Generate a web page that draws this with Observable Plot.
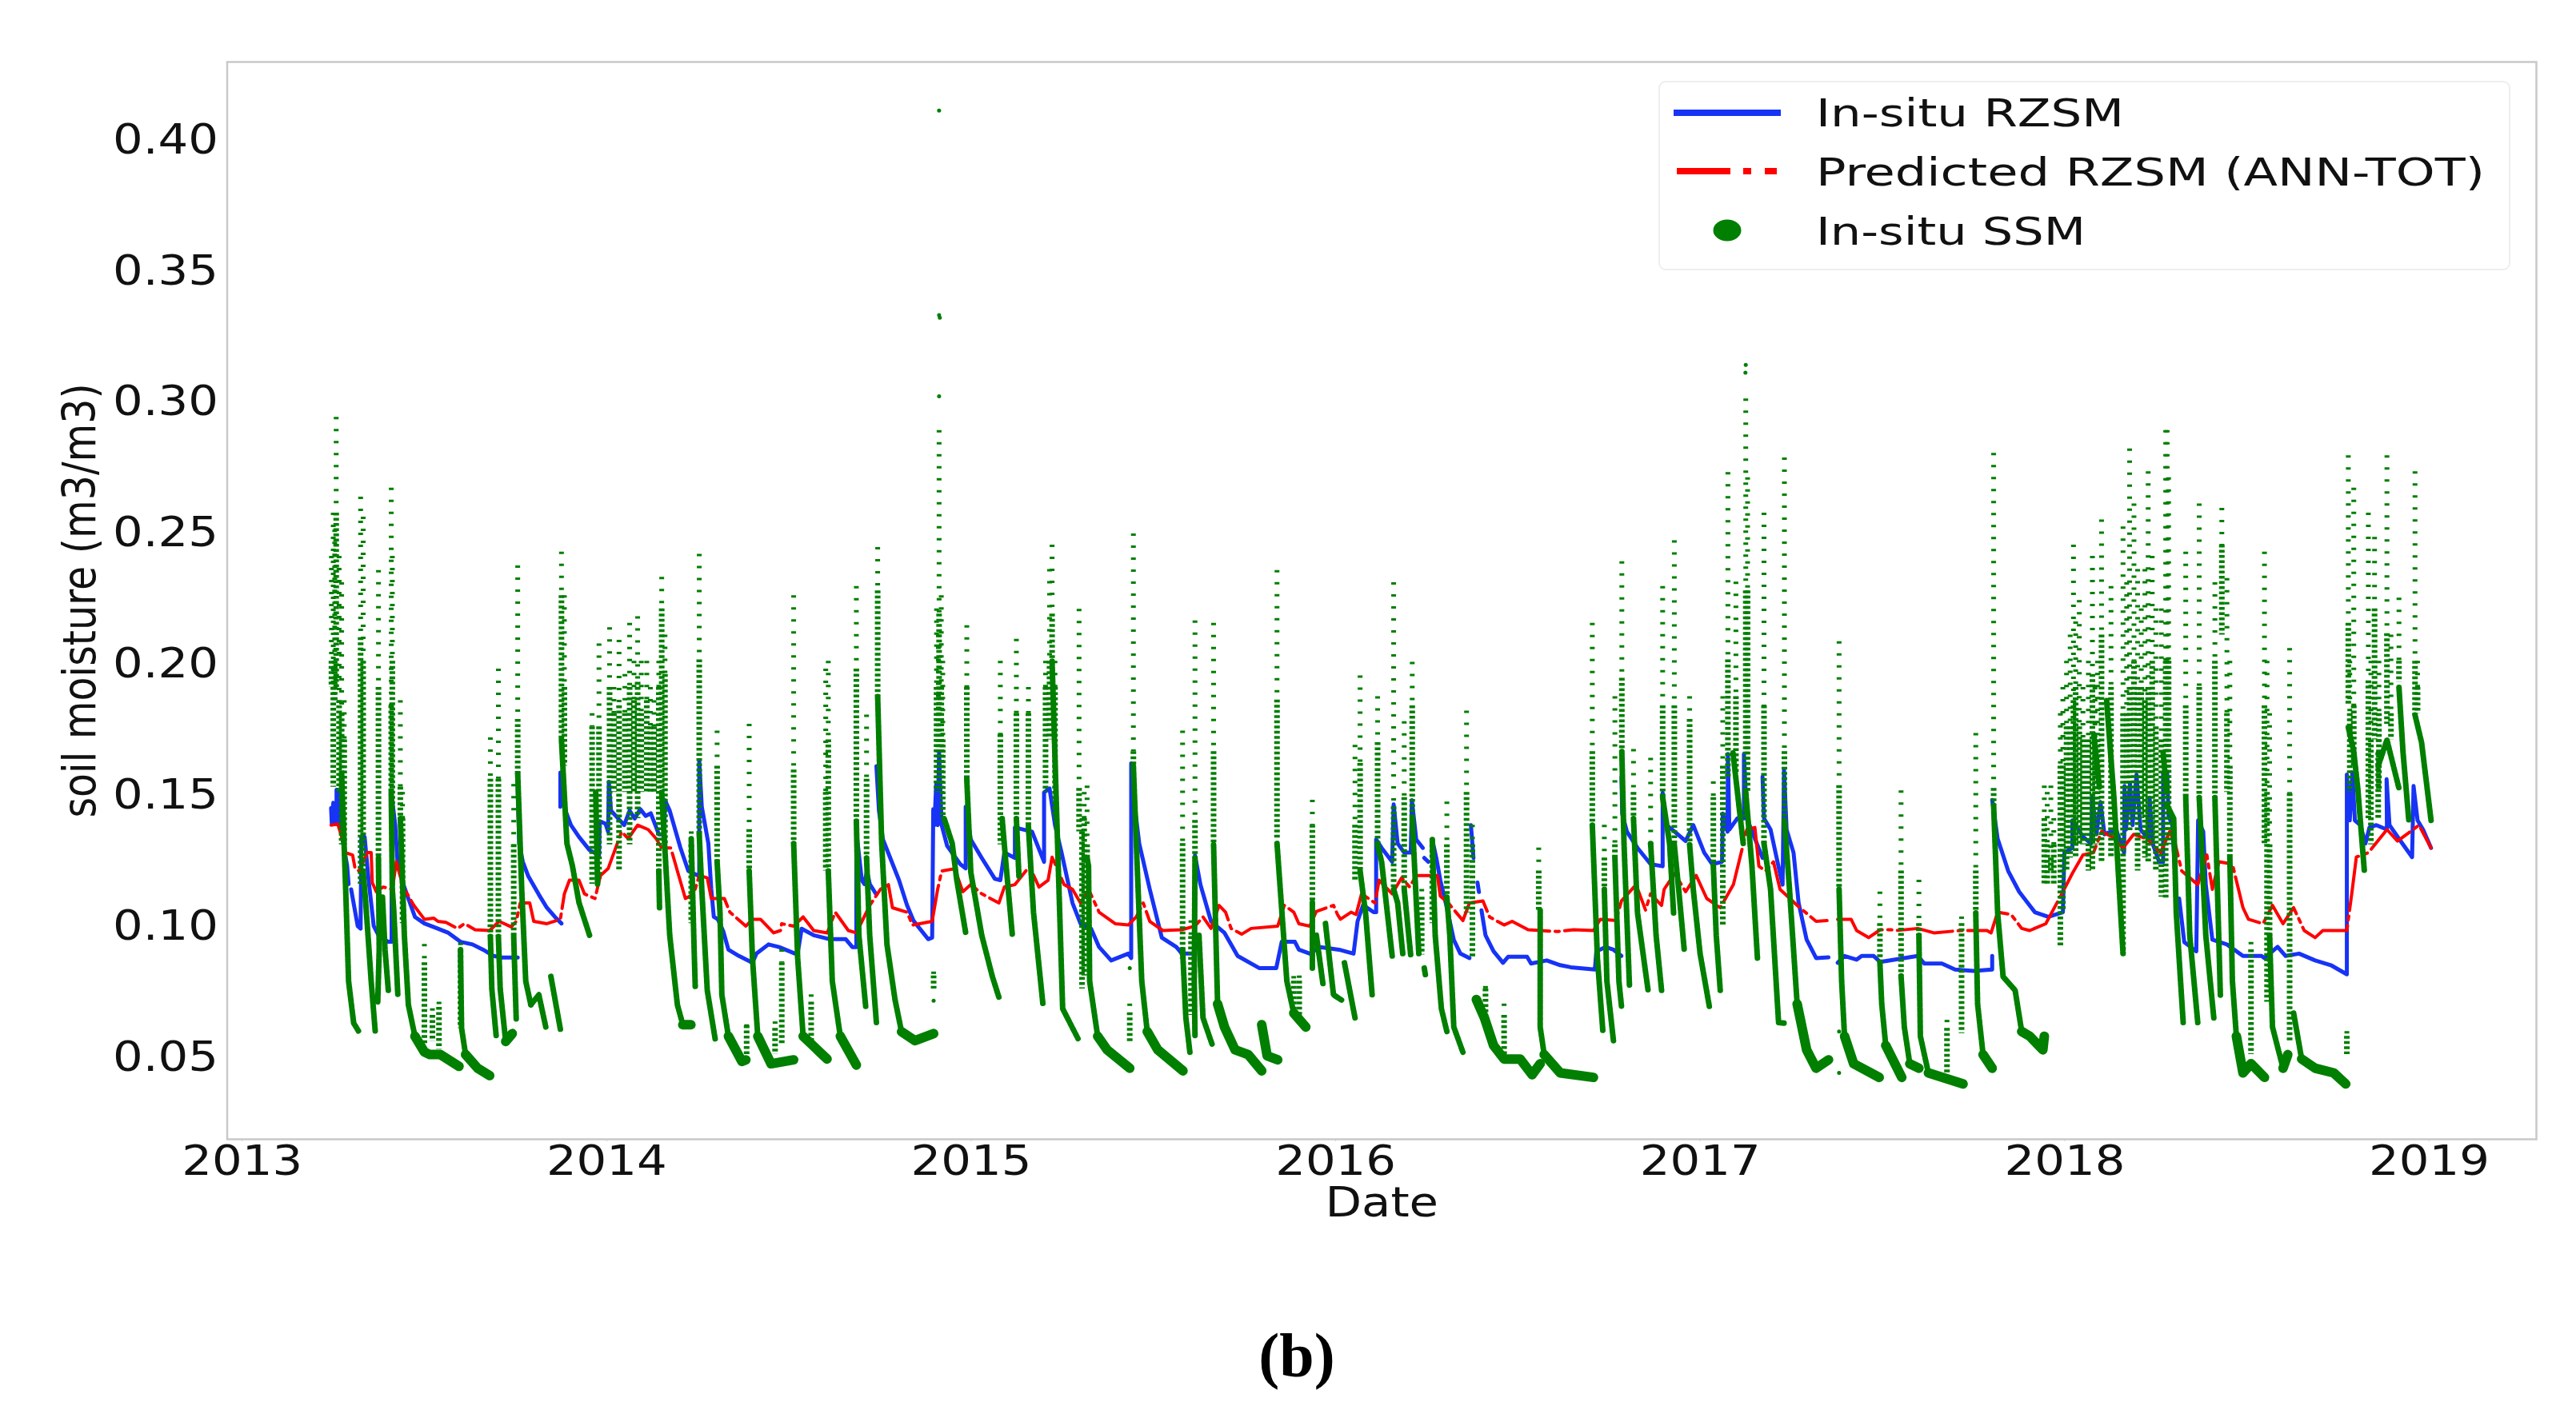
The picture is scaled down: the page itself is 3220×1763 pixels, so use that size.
<!DOCTYPE html>
<html>
<head>
<meta charset="utf-8">
<script src="https://cdn.jsdelivr.net/npm/d3@7"></script>
<script src="https://cdn.jsdelivr.net/npm/@observablehq/plot@0.6"></script>
<style>
  html, body { margin: 0; padding: 0; background: #fff; overflow: hidden; }
  #chart { position: relative; width: 3220px; height: 1763px; }
  #caption { position: absolute; left: 1421px; width: 400px; top: 1650px; text-align: center;
    font: bold 78px "Liberation Serif", serif; color: #000; }
</style>
</head>
<body>
<div id="chart"></div>
<div id="caption">(b)</div>
<script>
const yearTicks = [2013, 2014, 2015, 2016, 2017, 2018, 2019];
const moistureTicks = [0.05, 0.10, 0.15, 0.20, 0.25, 0.30, 0.35, 0.40];

// In-situ RZSM, [decimal year, m3/m3], one list per unbroken stretch
const insituRzsm = [
  [[2013.244,.144],[2013.246,.138],[2013.25,.146],[2013.253,.138],[2013.259,.138],[2013.259,.151],[2013.2625,.151],[2013.273,.134],[2013.288,.122],[2013.292,.115]],
  [[2013.299,.113],[2013.317,.099],[2013.325,.098],[2013.327,.133],[2013.336,.133],[2013.347,.1165],[2013.361,.099],[2013.376,.095],[2013.401,.093],[2013.41,.093],[2013.41,.149],[2013.42,.1375],[2013.427,.122],[2013.442,.115],[2013.456,.1095],[2013.474,.1025],[2013.5,.1],[2013.537,.098],[2013.566,.0964],[2013.599,.093],[2013.632,.092],[2013.661,.09],[2013.69,.0876],[2013.712,.087],[2013.756,.087]],
  [[2013.756,.1515],[2013.76,.1305],[2013.77,.1235],[2013.785,.118],[2013.814,.111],[2013.836,.106],[2013.858,.1025],[2013.876,.1]],
  [[2013.873,.1575],[2013.873,.1445],[2013.88,.157],[2013.884,.1445],[2013.887,.143],[2013.902,.1375],[2013.924,.133],[2013.953,.128],[2013.979,.126],[2013.981,.139],[2013.997,.138],[2014.004,.135],[2014.006,.154],[2014.012,.143],[2014.048,.1375],[2014.063,.143],[2014.077,.14],[2014.092,.1436],[2014.107,.141],[2014.121,.142],[2014.136,.1366],[2014.143,.134],[2014.158,.134],[2014.16,.147],[2014.173,.143],[2014.202,.129],[2014.224,.12],[2014.254,.118],[2014.254,.162],[2014.261,.1445],[2014.279,.1305],[2014.287,.113],[2014.294,.1025],[2014.305,.1016],[2014.32,.097],[2014.334,.09],[2014.363,.0876],[2014.4,.085],[2014.411,.0885],[2014.444,.092],[2014.473,.091],[2014.517,.0885],[2014.524,.0885],[2014.535,.098],[2014.568,.0955],[2014.612,.094],[2014.656,.094],[2014.674,.091],[2014.685,.091],[2014.685,.135],[2014.7,.1165],[2014.707,.115],[2014.714,.12],[2014.722,.115],[2014.74,.111]],
  [[2014.74,.16],[2014.747,.143],[2014.758,.132],[2014.802,.1165],[2014.824,.107],[2014.842,.101],[2014.882,.094],[2014.893,.0946],[2014.896,.1436],[2014.899,.1375],[2014.904,.153],[2014.908,.1375],[2014.912,.1655],[2014.915,.153],[2014.919,.1375],[2014.934,.1296],[2014.97,.1226],[2014.985,.121],[2014.985,.1445],[2014.999,.132],[2015.029,.125],[2015.065,.117],[2015.08,.1165],[2015.091,.127],[2015.12,.125],[2015.12,.1366],[2015.167,.135],[2015.2,.1235],[2015.2,.15],[2015.215,.1515],[2015.23,.1375],[2015.248,.127],[2015.278,.1078],[2015.3,.0999],[2015.329,.098],[2015.351,.091],[2015.384,.0859],[2015.431,.0885],[2015.439,.0868],[2015.439,.161],[2015.446,.148],[2015.461,.1305],[2015.49,.113],[2015.523,.0946],[2015.563,.091],[2015.578,.0885],[2015.614,.0885],[2015.614,.126],[2015.629,.1148],[2015.658,.1008],[2015.695,.0964],[2015.731,.0876],[2015.79,.083],[2015.837,.083],[2015.852,.093],[2015.888,.093],[2015.899,.09],[2015.929,.0885],[2015.958,.091],[2016.009,.09],[2016.049,.0885],[2016.06,.1008],[2016.075,.107],[2016.104,.1043],[2016.111,.1043],[2016.111,.132],[2016.126,.1288],[2016.155,.1235],[2016.159,.1454],[2016.17,.1305],[2016.188,.127],[2016.206,.127],[2016.209,.147],[2016.221,.132],[2016.239,.1288]],
  [[2016.243,.125],[2016.254,.1235]],
  [[2016.265,.132],[2016.276,.125],[2016.287,.1165],[2016.302,.1078],[2016.324,.0938],[2016.342,.0885],[2016.367,.0868]],
  [[2016.371,.1375],[2016.378,.125]],
  [[2016.389,.1156],[2016.393,.112]],
  [[2016.4,.105],[2016.411,.0955],[2016.433,.0894],[2016.459,.085],[2016.473,.0873],[2016.525,.0873],[2016.536,.0847],[2016.579,.0859],[2016.616,.0841],[2016.645,.0833],[2016.711,.0824],[2016.715,.0894],[2016.74,.091],[2016.762,.09],[2016.784,.0876]],
  [[2016.784,.1559],[2016.786,.1419],[2016.799,.135],[2016.828,.1288],[2016.864,.1226],[2016.897,.1218],[2016.897,.1498],[2016.908,.1375],[2016.93,.135],[2016.96,.1314],[2016.981,.1375],[2017.011,.127],[2017.033,.1226],[2017.06,.1235],[2017.062,.1419],[2017.075,.135],[2017.076,.1646],[2017.08,.1358],[2017.102,.1401],[2017.12,.1401],[2017.12,.1646],[2017.128,.1401],[2017.171,.125]],
  [[2017.171,.1559],[2017.175,.1401],[2017.193,.1358],[2017.212,.1235],[2017.226,.1148],[2017.23,.1585],[2017.237,.1358],[2017.256,.127],[2017.27,.1078],[2017.292,.0938],[2017.318,.0868],[2017.352,.0871]],
  [[2017.377,.085],[2017.396,.0876],[2017.429,.0862],[2017.443,.0876],[2017.476,.0876],[2017.494,.0853],[2017.597,.0876],[2017.615,.0847],[2017.663,.0847],[2017.699,.0824],[2017.75,.0819],[2017.801,.0824],[2017.801,.0876]],
  [[2017.801,.1471],[2017.816,.1323],[2017.845,.12],[2017.875,.1121],[2017.918,.1043],[2017.955,.1025],[2017.995,.1043],[2017.999,.127],[2018.021,.1288],[2018.021,.1393],[2018.05,.1331],[2018.072,.1305],[2018.076,.148],[2018.087,.134],[2018.098,.1463],[2018.109,.134],[2018.141,.1358],[2018.163,.127],[2018.164,.1524],[2018.168,.1358],[2018.179,.1533],[2018.186,.1375],[2018.197,.1568],[2018.208,.1358],[2018.23,.1323],[2018.233,.148],[2018.241,.1305],[2018.259,.1235],[2018.27,.1235],[2018.27,.1576],[2018.281,.1576],[2018.285,.141],[2018.295,.1375],[2018.306,.1113]],
  [[2018.314,.1095],[2018.328,.0929],[2018.361,.0894],[2018.366,.1393],[2018.38,.135],[2018.387,.1148],[2018.405,.0938],[2018.445,.092],[2018.489,.0876],[2018.54,.0876],[2018.548,.0868],[2018.584,.0911],[2018.606,.0876],[2018.643,.0885],[2018.687,.0859],[2018.73,.0841],[2018.774,.0806],[2018.774,.1568],[2018.782,.1393],[2018.789,.1576],[2018.796,.1393],[2018.811,.1375],[2018.825,.1305],[2018.836,.1366],[2018.855,.1375],[2018.884,.1358],[2018.883,.155],[2018.891,.1375],[2018.917,.1323],[2018.953,.1253],[2018.957,.1524],[2018.968,.1393],[2018.983,.1358],[2019.005,.1288]]
];

// Predicted RZSM (ANN-TOT)
const predictedRzsm = [
  [[2013.244,.1375],[2013.2625,.1379],[2013.273,.1331],[2013.284,.127],[2013.303,.1261],[2013.31,.1209],[2013.321,.12],[2013.343,.127],[2013.354,.127],[2013.357,.1156],[2013.368,.1121],[2013.387,.1139],[2013.412,.113],[2013.423,.1235],[2013.442,.1139],[2013.471,.1069],[2013.5,.1016],[2013.526,.102],[2013.537,.1008],[2013.559,.1004],[2013.591,.0981],[2013.61,.0999],[2013.639,.0976],[2013.679,.0973],[2013.705,.1008],[2013.738,.0987],[2013.752,.1008],[2013.763,.1078],[2013.789,.1078],[2013.8,.1008],[2013.836,.0999],[2013.873,.1016],[2013.884,.1113],[2013.898,.1165],[2013.924,.1165],[2013.939,.1113],[2013.968,.1095],[2013.983,.1183],[2014.004,.1209],[2014.041,.135],[2014.059,.1323],[2014.085,.1375],[2014.114,.1358],[2014.136,.1323],[2014.151,.1288],[2014.176,.1288],[2014.194,.12],[2014.216,.1095],[2014.239,.1113],[2014.254,.1183],[2014.276,.1174],[2014.287,.1095],[2014.323,.1095],[2014.338,.1043],[2014.382,.099],[2014.4,.1016],[2014.422,.1016],[2014.458,.0964],[2014.477,.0973],[2014.48,.0999],[2014.513,.099],[2014.539,.1025],[2014.568,.0973],[2014.605,.0964],[2014.627,.1043],[2014.663,.0973],[2014.685,.0964],[2014.722,.1069],[2014.751,.113],[2014.773,.1148],[2014.784,.106],[2014.824,.1043],[2014.839,.0994],[2014.893,.1008],[2014.908,.113],[2014.919,.12],[2014.955,.1209],[2014.977,.1121],[2014.999,.1148],[2015.029,.1113],[2015.076,.1078],[2015.091,.1139],[2015.12,.1148],[2015.16,.1218],[2015.186,.1139],[2015.211,.1165],[2015.222,.1253],[2015.255,.1148],[2015.278,.113],[2015.3,.1078],[2015.322,.113],[2015.351,.1043],[2015.395,.0999],[2015.431,.0994],[2015.453,.1025],[2015.472,.1078],[2015.49,.1008],[2015.526,.0973],[2015.578,.0976],[2015.614,.099],[2015.636,.1025],[2015.658,.0981],[2015.68,.1069],[2015.698,.1043],[2015.713,.0981],[2015.742,.0959],[2015.768,.0981],[2015.841,.099],[2015.859,.1069],[2015.885,.1043],[2015.899,.0999],[2015.929,.099],[2015.947,.1046],[2015.994,.1069],[2016.005,.1034],[2016.013,.1016],[2016.042,.1043],[2016.056,.1034],[2016.071,.1113],[2016.108,.1078],[2016.119,.1165],[2016.155,.1113],[2016.181,.1174],[2016.203,.1139],[2016.221,.1183],[2016.279,.1183],[2016.287,.1104],[2016.309,.1078],[2016.349,.1011],[2016.367,.1078],[2016.404,.1086],[2016.422,.1025],[2016.462,.0994],[2016.484,.1008],[2016.528,.0976],[2016.609,.0969],[2016.653,.0976],[2016.707,.0973],[2016.726,.1016],[2016.769,.1011],[2016.784,.1086],[2016.824,.1148],[2016.85,.1051],[2016.864,.1113],[2016.894,.1069],[2016.901,.113],[2016.93,.1191],[2016.96,.1121],[2016.989,.1183],[2017.018,.1095],[2017.055,.106],[2017.091,.1148],[2017.128,.1358],[2017.15,.1366],[2017.161,.1218],[2017.179,.12],[2017.201,.1235],[2017.219,.113],[2017.266,.1069],[2017.318,.1008],[2017.348,.1011]],
  [[2017.377,.1016],[2017.414,.1016],[2017.429,.0973],[2017.462,.0946],[2017.494,.0976],[2017.524,.0976],[2017.538,.0973],[2017.597,.0981],[2017.641,.0964],[2017.714,.0973],[2017.787,.0973],[2017.798,.0964],[2017.816,.1043],[2017.853,.1034],[2017.882,.0981],[2017.904,.0973],[2017.948,.0999],[2017.992,.1113],[2018.021,.1191],[2018.05,.1261],[2018.079,.127],[2018.101,.135],[2018.13,.1331],[2018.16,.1288],[2018.189,.134],[2018.225,.1323],[2018.263,.127],[2018.288,.135],[2018.303,.1305],[2018.321,.12],[2018.365,.1148],[2018.39,.1261],[2018.405,.113],[2018.423,.1235],[2018.46,.1226],[2018.489,.106],[2018.504,.1016],[2018.544,.0999],[2018.57,.1069],[2018.599,.0999],[2018.628,.106],[2018.657,.0973],[2018.687,.0946],[2018.708,.0973],[2018.774,.0973],[2018.789,.113],[2018.8,.1253],[2018.833,.127],[2018.884,.1358],[2018.913,.1314],[2018.972,.1375],[2019.005,.1288]]
];

// In-situ SSM: wetting pulses as columns of readings [year, highest, where readings get closer, lowest]
const ssmColumns = [
  [2013.258,.293,.2565,.19],[2013.25,.2565,.19,.152],[2013.245,.24,.2,.19],[2013.254,.25,.2,.185],[2013.266,.24,.185,.15],[2013.273,.23,.18,.13],[2013.28,.185,.17,.13],[2013.325,.2626,.209,.115],[2013.332,.255,.2,.12],[2013.374,.2346,.19,.125],[2013.409,.266,.183,.15],[2013.412,.24,.2,.14],[2013.434,.185,.152,.14],[2013.44,.15,.14,.1],[2013.5,.092,.085,.054],[2013.522,.0675,.065,.055],[2013.54,.07,.068,.052],[2013.599,.0925,.09,.06],[2013.681,.1708,.155,.095],[2013.703,.197,.155,.095],[2013.745,.153,.13,.095],[2013.756,.2364,.1778,.157],[2013.876,.2416,.225,.17],[2013.884,.225,.19,.16],[2013.96,.18,.175,.115],[2013.979,.2066,.175,.117],
  [2014.008,.2128,.19,.13],[2014.02,.19,.18,.15],[2014.034,.208,.183,.12],[2014.05,.195,.18,.15],[2014.063,.2145,.19,.13],[2014.075,.2,.185,.15],[2014.085,.217,.192,.14],[2014.095,.2,.18,.15],[2014.11,.2,.185,.15],[2014.12,.19,.175,.15],[2014.13,.185,.175,.15],[2014.143,.2,.19,.12],[2014.151,.232,.22,.15],[2014.16,.21,.195,.13],[2014.232,.135,.13,.1],[2014.254,.2408,.2005,.134],[2014.303,.1734,.16,.1235],[2014.384,.0614,.061,.05],[2014.391,.176,.1358,.12],[2014.462,.0625,.06,.05],[2014.4804,.09,.085,.054],[2014.513,.225,.1585,.1305],[2014.561,.0728,.07,.055],[2014.601,.197,.15,.12],[2014.608,.2,.17,.12],[2014.685,.2285,.197,.139],[2014.713,.1795,.155,.125],[2014.7435,.2434,.2268,.1865],[2014.897,.0815,.08,.075],[2014.905,.22,.19,.15],[2014.91,.21,.18,.15],[2014.912,.288,.218,.18],[2014.918,.225,.19,.15],[2014.922,.2,.17,.14],[2014.988,.2136,.19,.155],
  [2015.08,.2,.172,.13],[2015.124,.2084,.18,.14],[2015.157,.19,.18,.137],[2015.204,.2,.19,.15],[2015.215,.235,.2,.17],[2015.222,.2443,.218,.2],[2015.23,.2,.19,.14],[2015.296,.2198,.1515,.135],[2015.304,.14,.135,.075],[2015.31,.15,.14,.08],[2015.318,.1524,.13,.11],[2015.435,.0693,.066,.055],[2015.445,.2486,.1655,.16],[2015.58,.1734,.1305,.0865],[2015.603,.101,.095,.065],[2015.614,.2154,.1393,.125],[2015.665,.2145,.1655,.13],[2015.839,.2346,.1852,.132],[2015.885,.0798,.078,.067],[2015.9,.08,.078,.065],[2015.936,.147,.1375,.108],
  [2016.053,.168,.1375,.1165],[2016.067,.1944,.161,.12],[2016.115,.1865,.169,.13],[2016.159,.23,.1445,.113],[2016.188,.177,.148,.113],[2016.21,.1996,.183,.14],[2016.236,.113,.11,.088],[2016.265,.1323,.13,.1],[2016.305,.1463,.13,.11],[2016.359,.181,.15,.104],[2016.375,.1375,.13,.0868],[2016.411,.076,.075,.062],[2016.462,.0693,.065,.05],[2016.557,.1288,.12,.105],[2016.704,.2145,.1655,.1375],[2016.737,.1375,.125,.113],[2016.766,.1865,.13,.125],[2016.785,.238,.1935,.1655],[2016.817,.1664,.15,.14],[2016.864,.163,.13,.1305],[2016.897,.2285,.183,.148],[2016.929,.246,.183,.13],[2016.971,.1865,.1778,.13],
  [2017.036,.154,.148,.122],[2017.062,.1865,.16,.099],[2017.076,.272,.2005,.155],[2017.098,.2302,.1865,.157],[2017.125,.3,.2268,.14],[2017.13,.27,.2268,.15],[2017.175,.2565,.183,.1305],[2017.231,.2775,.1655,.1393],[2017.381,.2075,.1526,.113],[2017.493,.112,.1,.085],[2017.551,.1506,.12,.08],[2017.6,.1165,.1,.0955],[2017.677,.0631,.06,.043],[2017.717,.1025,.1,.058],[2017.756,.1725,.12,.104],[2017.805,.2793,.1515,.145],[2017.944,.1524,.14,.115],[2017.952,.15,.13,.115],[2017.962,.1524,.125,.12],[2017.97,.14,.13,.115],[2017.988,.18,.16,.091],[2017.995,.19,.16,.105],
  [2018.005,.2,.175,.12],[2018.015,.21,.175,.125],[2018.024,.2443,.185,.13],[2018.03,.215,.19,.125],[2018.04,.2232,.175,.13],[2018.05,.19,.17,.13],[2018.065,.2,.17,.12],[2018.076,.24,.195,.12],[2018.083,.19,.17,.13],[2018.09,.2,.17,.14],[2018.101,.2539,.21,.1235],[2018.127,.2285,.19,.125],[2018.16,.2512,.18,.0885],[2018.17,.23,.18,.14],[2018.178,.281,.19,.135],[2018.19,.26,.2,.14],[2018.2,.235,.19,.12],[2018.21,.22,.19,.14],[2018.22,.235,.185,.125],[2018.229,.2723,.19,.1235],[2018.24,.24,.2,.13],[2018.25,.22,.175,.12],[2018.265,.22,.17,.11],[2018.277,.288,.2,.1095],[2018.281,.288,.2,.15],[2018.285,.27,.2,.13],[2018.332,.2416,.183,.148],[2018.369,.26,.19,.148],[2018.412,.23,.2,.148],[2018.431,.2583,.2443,.21],[2018.445,.2316,.18,.15],[2018.453,.2,.16,.125],[2018.511,.0928,.09,.05],[2018.548,.2416,.183,.1305],[2018.555,.2,.15,.07],[2018.562,.18,.13,.075],[2018.617,.2049,.1495,.055],[2018.774,.0588,.057,.05],[2018.778,.2784,.2145,.183],[2018.782,.2,.18,.15],[2018.793,.266,.183,.16],[2018.833,.2565,.1925,.14],[2018.84,.2,.17,.13],[2018.85,.2473,.22,.17],[2018.86,.17,.165,.14],[2018.862,.2,.18,.15],[2018.884,.2784,.2105,.176],[2018.895,.21,.18,.17],[2018.917,.2241,.2,.192],[2018.961,.2723,.2,.1795],[2018.968,.2,.19,.18]
];

// isolated high readings
const ssmOutliers = [
  [2014.912,.41],[2014.912,.332],[2014.914,.331],[2014.912,.301],[2017.125,.313],[2017.124,.31],[2014.897,.0705],[2015.435,.083],[2017.381,.0588],[2017.381,.043]
];

// steep drying limbs after each pulse
const ssmLimbs = [
  [[2013.273,.157],[2013.284,.113],[2013.292,.078],[2013.306,.062],[2013.319,.059]],
  [[2013.332,.12],[2013.339,.108],[2013.354,.078],[2013.365,.059]],
  [[2013.374,.125],[2013.376,.09],[2013.372,.07]],
  [[2013.385,.11],[2013.392,.09],[2013.401,.0745]],
  [[2013.409,.15],[2013.412,.113],[2013.416,.105],[2013.427,.073]],
  [[2013.434,.14],[2013.445,.0955],[2013.456,.069],[2013.474,.057]],
  [[2013.599,.09],[2013.602,.06],[2013.613,.05]],
  [[2013.681,.095],[2013.685,.075],[2013.697,.057]],
  [[2013.703,.095],[2013.708,.075],[2013.723,.055]],
  [[2013.745,.095],[2013.752,.063]],
  [[2013.756,.157],[2013.767,.113],[2013.778,.078],[2013.792,.069]],
  [[2013.792,.069],[2013.814,.0728],[2013.833,.0605]],
  [[2013.847,.0798],[2013.873,.0597]],
  [[2013.876,.17],[2013.891,.1305],[2013.906,.122],[2013.924,.108],[2013.953,.0955]],
  [[2013.97,.15],[2013.975,.115]],
  [[2014.143,.12],[2014.145,.106]],
  [[2014.151,.15],[2014.173,.0955],[2014.194,.069],[2014.209,.0614]],
  [[2014.232,.1323],[2014.24,.09],[2014.243,.076]],
  [[2014.254,.134],[2014.261,.113],[2014.276,.0745],[2014.2976,.056]],
  [[2014.303,.1235],[2014.311,.104],[2014.316,.0728],[2014.334,.057]],
  [[2014.391,.12],[2014.4,.0868],[2014.4146,.057]],
  [[2014.513,.1305],[2014.524,.0868],[2014.539,.057]],
  [[2014.608,.12],[2014.619,.078],[2014.641,.057]],
  [[2014.685,.139],[2014.692,.0955],[2014.7106,.0684]],
  [[2014.713,.125],[2014.7216,.0955],[2014.74,.0622]],
  [[2014.7435,.1865],[2014.7545,.1305],[2014.769,.092],[2014.791,.071],[2014.809,.0587]],
  [[2014.926,.14],[2014.948,.1305],[2014.96,.117],[2014.985,.0964]],
  [[2014.988,.155],[2014.999,.1195],[2015.029,.0955],[2015.058,.0798],[2015.076,.0719]],
  [[2015.085,.14],[2015.094,.125],[2015.113,.0955]],
  [[2015.124,.14],[2015.131,.118]],
  [[2015.157,.137],[2015.171,.1043],[2015.197,.069]],
  [[2015.222,.2],[2015.237,.1305],[2015.251,.0675],[2015.293,.0561]],
  [[2015.318,.125],[2015.322,.1218],[2015.325,.078],[2015.347,.057]],
  [[2015.445,.16],[2015.453,.1305],[2015.468,.078],[2015.483,.0588]],
  [[2015.58,.09],[2015.589,.064],[2015.6,.0509]],
  [[2015.614,.125],[2015.612,.078],[2015.614,.057]],
  [[2015.625,.0955],[2015.636,.064],[2015.662,.0535]],
  [[2015.665,.13],[2015.676,.0693]],
  [[2015.839,.1305],[2015.848,.113],[2015.866,.078],[2015.885,.0658]],
  [[2015.936,.108],[2015.936,.0828]],
  [[2015.947,.0955],[2015.965,.077]],
  [[2015.972,.1],[2015.994,.0728],[2016.016,.0708]],
  [[2016.024,.085],[2016.053,.064]],
  [[2016.067,.12],[2016.082,.104],[2016.1,.0728]],
  [[2016.115,.13],[2016.126,.1235],[2016.155,.0876]],
  [[2016.159,.113],[2016.17,.1078],[2016.184,.0885]],
  [[2016.188,.113],[2016.206,.0876]],
  [[2016.21,.14],[2016.228,.0885]],
  [[2016.243,.083],[2016.246,.0805]],
  [[2016.265,.132],[2016.273,.0955],[2016.29,.0675],[2016.305,.0588]],
  [[2016.305,.11],[2016.313,.0955],[2016.324,.0605],[2016.349,.0509]],
  [[2016.561,.105],[2016.561,.0605],[2016.572,.05]],
  [[2016.704,.1375],[2016.718,.0868],[2016.733,.0588]],
  [[2016.737,.113],[2016.744,.078],[2016.762,.0553]],
  [[2016.766,.125],[2016.777,.078],[2016.784,.0685]],
  [[2016.785,.1655],[2016.791,.1305],[2016.806,.076]],
  [[2016.817,.14],[2016.828,.104],[2016.857,.0745]],
  [[2016.864,.1305],[2016.879,.0955],[2016.894,.0745]],
  [[2016.897,.148],[2016.916,.1305],[2016.927,.104]],
  [[2016.929,.13],[2016.941,.113],[2016.956,.0902]],
  [[2016.971,.13],[2016.981,.113],[2016.9997,.0885],[2017.025,.0684]],
  [[2017.036,.122],[2017.044,.0955],[2017.055,.0745]],
  [[2017.09,.165],[2017.118,.1305]],
  [[2017.125,.15],[2017.142,.1218],[2017.157,.0868]],
  [[2017.175,.1305],[2017.193,.113],[2017.215,.0622],[2017.23,.062]],
  [[2017.231,.1393],[2017.245,.113],[2017.266,.0693]],
  [[2017.381,.113],[2017.388,.078],[2017.396,.057]],
  [[2017.493,.085],[2017.498,.0693],[2017.509,.0535]],
  [[2017.551,.08],[2017.56,.0605],[2017.575,.0465]],
  [[2017.6,.0955],[2017.604,.057],[2017.626,.043]],
  [[2017.756,.104],[2017.761,.0693],[2017.776,.05]],
  [[2017.805,.145],[2017.816,.104],[2017.831,.0797],[2017.864,.0745],[2017.882,.0588]],
  [[2018.08,.172],[2018.095,.152]],
  [[2018.115,.185],[2018.135,.148],[2018.16,.0885]],
  [[2018.27,.165],[2018.28,.15]],
  [[2018.281,.145],[2018.299,.14],[2018.306,.104],[2018.325,.0622]],
  [[2018.332,.148],[2018.343,.0955],[2018.365,.0622]],
  [[2018.369,.148],[2018.387,.0955],[2018.409,.064]],
  [[2018.412,.148],[2018.427,.0727]],
  [[2018.453,.125],[2018.46,.078],[2018.471,.057]],
  [[2018.562,.0955],[2018.57,.0605],[2018.599,.0448]],
  [[2018.628,.0658],[2018.65,.0483]],
  [[2018.778,.1748],[2018.793,.1655],[2018.804,.1515],[2018.822,.12]],
  [[2018.86,.16],[2018.884,.17],[2018.917,.1515]],
  [[2018.917,.19],[2018.928,.1655],[2018.944,.1393]],
  [[2018.961,.1795],[2018.979,.169],[2019.005,.1393]]
];

// flat dry-season tails, readings too close to tell apart
const ssmTails = [
  [[2013.474,.057],[2013.5,.051],[2013.515,.05],[2013.544,.05],[2013.595,.0455]],
  [[2013.613,.05],[2013.646,.0448],[2013.679,.042]],
  [[2013.723,.055],[2013.741,.058]],
  [[2014.209,.0614],[2014.231,.0614]],
  [[2014.334,.057],[2014.371,.0474],[2014.382,.048]],
  [[2014.4146,.057],[2014.451,.0465],[2014.513,.048]],
  [[2014.539,.057],[2014.6046,.0483]],
  [[2014.641,.057],[2014.685,.046]],
  [[2014.809,.0587],[2014.846,.0553],[2014.897,.058]],
  [[2015.347,.057],[2015.373,.0518],[2015.435,.0448]],
  [[2015.483,.0588],[2015.512,.0518],[2015.581,.0438]],
  [[2015.676,.0693],[2015.695,.0605],[2015.724,.0518],[2015.76,.05],[2015.797,.0438]],
  [[2015.797,.0614],[2015.812,.0495],[2015.841,.048]],
  [[2015.885,.0658],[2015.918,.0605]],
  [[2016.386,.071],[2016.408,.064],[2016.433,.0535],[2016.462,.0483],[2016.506,.0483],[2016.539,.0423],[2016.561,.0465]],
  [[2016.572,.05],[2016.616,.043],[2016.707,.0413]],
  [[2017.266,.0693],[2017.292,.0518],[2017.318,.0448],[2017.352,.048]],
  [[2017.396,.057],[2017.421,.0465],[2017.491,.0413]],
  [[2017.509,.0535],[2017.553,.0413]],
  [[2017.575,.0465],[2017.6,.0448]],
  [[2017.626,.043],[2017.721,.0388]],
  [[2017.776,.05],[2017.801,.0448]],
  [[2017.882,.0588],[2017.904,.057],[2017.94,.0518],[2017.944,.057]],
  [[2018.471,.057],[2018.489,.043],[2018.511,.0465],[2018.548,.0413]],
  [[2018.599,.0448],[2018.612,.05]],
  [[2018.65,.0483],[2018.687,.0448],[2018.738,.043],[2018.771,.0388]]
];

const blue = '#1733f5';
const red = '#ff0000';
const green = '#007f00';
const tickFont = 'DejaVu Sans';

const year = d => d[0];
const moisture = d => d[1];

const chart = Plot.plot({
  width: 3220,
  height: 1763,
  marginLeft: 283.5,
  marginRight: 50,
  marginTop: 77,
  marginBottom: 339,
  style: { background: '#fff', fontFamily: tickFont },
  x: { domain: [2012.959, 2019.294] },
  y: { domain: [0.0177, 0.4285] },
  marks: [
    Plot.frame({ stroke: '#c9c9c9', strokeWidth: 2.5 }),
    Plot.axisX({
      ticks: yearTicks, tickFormat: 'd', tickSize: 3, stroke: '#c9c9c9', tickPadding: 5, fontSize: 52, fill: '#111',
      label: 'Date', labelAnchor: 'center', labelArrow: 'none', labelOffset: 96
    }),
    Plot.axisY({
      ticks: moistureTicks, tickFormat: '.2f', tickSize: 0, tickPadding: 11, dy: 4, fontSize: 52, fill: '#111',
      label: 'soil moisture (m3/m3)', labelAnchor: 'center', labelArrow: 'none', labelOffset: 205
    }),
    ...insituRzsm.map(seg => Plot.line(seg, { x: year, y: moisture, stroke: blue, strokeWidth: 5 })),
    ...predictedRzsm.map(seg => Plot.line(seg, { x: year, y: moisture, stroke: red, strokeWidth: 4, strokeDasharray: '70 7 5 7' })),
    Plot.ruleX(ssmColumns, { x: d => d[0], y1: d => d[1], y2: d => d[2], stroke: green, strokeWidth: 6, strokeDasharray: '3 12' }),
    Plot.ruleX(ssmColumns, { x: d => d[0], y1: d => d[2], y2: d => d[3], stroke: green, strokeWidth: 7, strokeDasharray: '3.5 3' }),
    ...ssmLimbs.map(seg => Plot.line(seg, { x: year, y: moisture, stroke: green, strokeWidth: 7, strokeDasharray: '5 2' })),
    ...ssmTails.map(seg => Plot.line(seg, { x: year, y: moisture, stroke: green, strokeWidth: 12 })),
    Plot.dot(ssmOutliers, { x: year, y: moisture, fill: green, r: 2.5 })
  ]
});
document.getElementById('chart').append(chart);

// the source picture is stretched sideways, so stretch tick labels the same way
const stretchText = (sel, ratio) => sel.each(function () {
  const len = this.getComputedTextLength();
  d3.select(this).attr('textLength', len * ratio).attr('lengthAdjust', 'spacingAndGlyphs');
});
const svg = d3.select(chart);
stretchText(svg.selectAll('[aria-label="x-axis tick label"] text, [aria-label="y-axis tick label"] text, [aria-label="x-axis label"] text'), 1.14);
svg.selectAll('[aria-label="y-axis label"] text').style('font-size', '57px');
stretchText(svg.selectAll('[aria-label="y-axis label"] text'), 0.86);

// legend, in the top right corner of the frame
const legend = svg.append('g').attr('font-family', tickFont).attr('font-size', 48).attr('fill', '#111').attr('text-anchor', 'start');
legend.append('rect').attr('x', 2074).attr('y', 102).attr('width', 1063).attr('height', 235).attr('rx', 8)
  .attr('fill', '#fff').attr('stroke', '#eeeeee').attr('stroke-width', 2);
legend.append('line').attr('x1', 2092).attr('x2', 2226).attr('y1', 141).attr('y2', 141)
  .attr('stroke', blue).attr('stroke-width', 8);
legend.append('line').attr('x1', 2096).attr('x2', 2221).attr('y1', 214).attr('y2', 214)
  .attr('stroke', red).attr('stroke-width', 8).attr('stroke-dasharray', '67 16 10 17 15');
legend.append('ellipse').attr('cx', 2159).attr('cy', 288).attr('rx', 17.5).attr('ry', 13.5).attr('fill', green);
[['In-situ RZSM', 158, 385], ['Predicted RZSM (ANN-TOT)', 232, 836], ['In-situ SSM', 306, 337]].forEach(([label, baseline, w]) => {
  legend.append('text').attr('x', 2270).attr('y', baseline).attr('textLength', w).attr('lengthAdjust', 'spacingAndGlyphs').text(label);
});
</script>
</body>
</html>
